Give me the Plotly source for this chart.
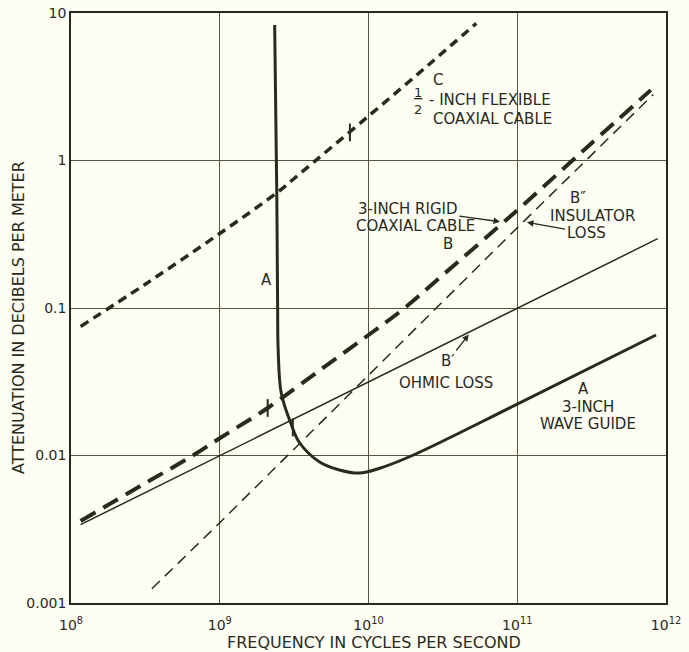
import numpy as np
import plotly.graph_objects as go

# ---------------- data ----------------
# Curve A: 3-inch wave guide
a_freq = [2.34e9, 2.42e9, 2.45e9, 2.47e9, 2.59e9, 3.0e9, 3.44e9, 4.69e9, 6.38e9,
          8.7e9, 1.19e10, 1.97e10, 1e11, 8.57e11]
a_att = [8.3, 0.54, 0.1, 0.052, 0.0265, 0.0166, 0.0122, 0.00904, 0.00798,
         0.0076, 0.0082, 0.01, 0.0223, 0.0656]

# Curve B: 3-inch rigid coaxial cable (total)
b_freq = [1.16e8, 3e8, 6.6e8, 1e9, 2.1e9, 5e9, 1e10, 1.75e10, 3e10, 1e11, 3e11, 7.9e11]
b_att = [0.0036, 0.0063, 0.01, 0.0131, 0.021, 0.0396, 0.0656, 0.1, 0.16, 0.46, 1.25, 3.0]

# Curve B': ohmic loss
bp_freq = [1.16e8, 1e9, 1e10, 1e11, 8.8e11]
bp_att = [0.0034, 0.01, 0.0316, 0.1, 0.295]

# Curve B'': insulator loss
bpp_freq = [3.5e8, 1e9, 1e10, 1e11, 8.2e11]
bpp_att = [0.00125, 0.0035, 0.035, 0.35, 2.8]

# Curve C: 1/2-inch flexible coaxial cable
c_freq = [1.16e8, 3.16e8, 1e9, 2.45e9, 3.39e9, 1e10, 2.5e10, 5.3e10]
c_att = [0.075, 0.145, 0.32, 0.61, 0.80, 2.0, 4.4, 8.5]

# small cross-ticks on the curves (frequency, attenuation)
tick_freq = [7.5e9, 2.1e9, 3.1e9]
tick_att = [1.55, 0.021, 0.0155]

x_tickvals = [1e8, 1e9, 1e10, 1e11, 1e12]
x_ticktext = ["10<sup>8</sup>", "10<sup>9</sup>", "10<sup>10</sup>", "10<sup>11</sup>", "10<sup>12</sup>"]
y_tickvals = [0.001, 0.01, 0.1, 1, 10]
y_ticktext = ["0.001", "0.01", "0.1", "1", "10"]

# ---------------- styling ----------------
INK = "#2a2a1c"
GRID = "#56563e"
BG = "#fdfdf4"
FONT = "DejaVu Sans"

W, H = 689, 652
ML, MR, MT, MB = 71, 23, 13, 49
PW, PH = W - ML - MR, H - MT - MB

fig = go.Figure()

fig.add_trace(go.Scatter(x=c_freq, y=c_att, mode="lines", line_shape="spline",
                         line=dict(color=INK, width=3.5, dash="9px,6px")))
fig.add_trace(go.Scatter(x=b_freq, y=b_att, mode="lines", line_shape="spline",
                         line=dict(color=INK, width=4, dash="17px,9px")))
fig.add_trace(go.Scatter(x=bp_freq, y=bp_att, mode="lines",
                         line=dict(color=INK, width=1.5)))
fig.add_trace(go.Scatter(x=bpp_freq, y=bpp_att, mode="lines",
                         line=dict(color=INK, width=1.5, dash="11px,7px")))
fig.add_trace(go.Scatter(x=a_freq, y=a_att, mode="lines", line_shape="spline",
                         line=dict(color=INK, width=3)))

k = 10 ** 0.06
for f, v in zip(tick_freq, tick_att):
    fig.add_trace(go.Scatter(x=[f, f], y=[v / k, v * k], mode="lines",
                             line=dict(color=INK, width=2)))


def L(v):
    return float(np.log10(v))


def px2f(px):
    return 10 ** (8 + (px - ML) / (PW / 4.0))


def py2a(py):
    return 10 ** (1 - (py - MT) / (PH / 4.0))


ann = []
LBL = 15


def txt(px, py, s, size=LBL, xanchor="center"):
    ann.append(dict(x=L(px2f(px)), y=L(py2a(py)), text=s, showarrow=False,
                    xref="x", yref="y",
                    font=dict(family=FONT, size=size, color=INK),
                    xanchor=xanchor, yanchor="middle"))


def txt_arrow(hx, hy, tx, ty, s, size=LBL):
    ann.append(dict(x=L(px2f(hx)), y=L(py2a(hy)), ax=tx - hx, ay=ty - hy,
                    text=s, showarrow=True, arrowhead=2, arrowsize=1,
                    arrowwidth=1.3, arrowcolor=INK, standoff=2,
                    font=dict(family=FONT, size=size, color=INK)))


# C label
txt(438, 80, "C")
ann.append(dict(x=L(px2f(418)), y=L(py2a(101)), text="<u>1</u><br>2", showarrow=False,
                font=dict(family=FONT, size=13, color=INK), align="center"))
txt(427, 100, "- INCH FLEXIBLE", xanchor="left")
txt(431, 119, "COAXIAL CABLE", xanchor="left")

# B labels
txt_arrow(502, 222, 408, 209, "3-INCH RIGID")
txt(415, 226, "COAXIAL CABLE")
txt(448, 244, "B")

txt(578, 198, "B″")
txt(592, 216, "INSULATOR")
txt_arrow(525, 222, 586, 233, "LOSS")

txt_arrow(470, 333, 448, 361, "B′")
txt(446, 383, "OHMIC LOSS")

# A labels
txt(266, 280, "A")
txt(583, 389, "A")
txt(588, 407, "3-INCH")
txt(588, 424, "WAVE GUIDE")

# axis titles
ann.append(dict(xref="paper", yref="paper", x=(374 - ML) / PW, y=(H - MB - 642) / PH,
                text="FREQUENCY IN CYCLES PER SECOND", showarrow=False,
                font=dict(family=FONT, size=16, color=INK), xanchor="center", yanchor="middle"))
ann.append(dict(xref="paper", yref="paper", x=(18 - ML) / PW, y=(H - MB - 318) / PH,
                text="ATTENUATION IN DECIBELS PER METER", showarrow=False, textangle=-90,
                font=dict(family=FONT, size=16, color=INK), xanchor="center", yanchor="middle"))

fig.update_layout(
    width=W, height=H,
    margin=dict(l=ML, r=MR, t=MT, b=MB, autoexpand=False),
    paper_bgcolor=BG, plot_bgcolor=BG,
    showlegend=False,
    font=dict(family=FONT, size=14, color=INK),
    annotations=ann,
)
fig.update_xaxes(type="log", range=[8, 12], tickvals=x_tickvals, ticktext=x_ticktext,
                 showgrid=True, gridcolor=GRID, gridwidth=1, showline=True, mirror=True,
                 linecolor=INK, linewidth=1.5, ticks="", zeroline=False, automargin=False,
                 ticklabelstandoff=8,
                 tickfont=dict(family=FONT, size=14, color=INK))
fig.update_yaxes(type="log", range=[-3, 1], tickvals=y_tickvals, ticktext=y_ticktext,
                 showgrid=True, gridcolor=GRID, gridwidth=1, showline=True, mirror=True,
                 linecolor=INK, linewidth=1.5, ticks="", zeroline=False, automargin=False,
                 tickfont=dict(family=FONT, size=14, color=INK))

fig.write_html(
    "out.html",
    config={"displayModeBar": False},
    post_script="document.body.style.margin='0';document.body.style.padding='0';"
                "document.body.style.background='" + BG + "';"
                "document.documentElement.style.overflow='hidden';",
)
